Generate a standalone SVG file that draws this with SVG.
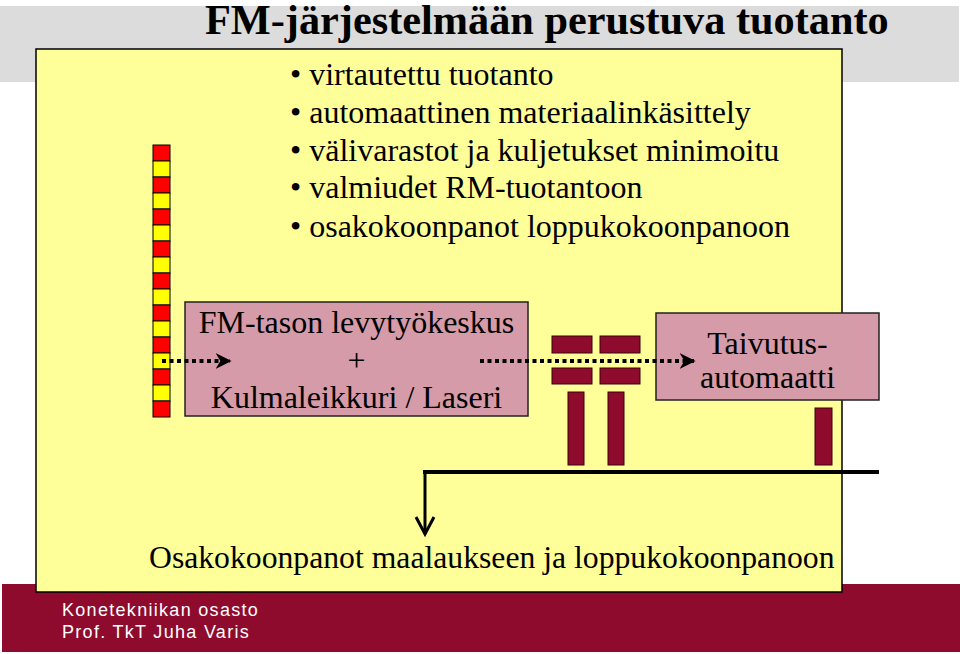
<svg xmlns="http://www.w3.org/2000/svg" width="960" height="654" viewBox="0 0 960 654">
<style>
.serif{font-family:"Liberation Serif","Times New Roman",serif;fill:#000}
.t{font-size:32px}
.box{fill:#d59ba8;stroke:#222;stroke-width:1.5}
.mr{fill:#8e0b2d;stroke:#3a0010;stroke-width:1}
.sqr{fill:#ff0000;stroke:#000;stroke-width:1}
.sqy{fill:#ffff00;stroke:#000;stroke-width:1}
.dot{fill:none;stroke:#000;stroke-width:4;stroke-dasharray:4 3.5}
.foot{font-family:"Liberation Sans",Arial,sans-serif;font-size:18px;fill:#fff;letter-spacing:1.3px}
</style>
<defs>
<marker id="stealth" viewBox="0 0 10 10" refX="9" refY="5" markerWidth="4" markerHeight="4" markerUnits="strokeWidth" orient="auto">
<path d="M0,0 L10,5 L0,10 L3,5 z" fill="#000"/>
</marker>
</defs>
<rect x="0" y="0" width="960" height="654" fill="#fff"/>
<rect x="0" y="6" width="959" height="76" fill="#dcdcdc"/>
<text class="serif" x="205" y="34" font-size="42.3" font-weight="bold">FM-järjestelmään perustuva tuotanto</text>
<rect x="2" y="584" width="958" height="68" fill="#8e0b2d"/>
<text class="foot" x="62" y="616">Konetekniikan osasto</text>
<text class="foot" x="62" y="638">Prof. TkT Juha Varis</text>
<rect x="36" y="49" width="806" height="543" fill="#ffff99" stroke="#000" stroke-width="1.5"/>
<g id="bullets" class="serif t">
<text x="290" y="85">• virtautettu tuotanto</text>
<text x="290" y="123">• automaattinen materiaalinkäsittely</text>
<text x="290" y="161">• välivarastot ja kuljetukset minimoitu</text>
<text x="290" y="198">• valmiudet RM-tuotantoon</text>
<text x="290" y="237">• osakokoonpanot loppukokoonpanoon</text>
</g>
<g id="storage">
<rect class="sqr" x="153" y="145" width="17" height="16"/>
<rect class="sqy" x="153" y="161" width="17" height="16"/>
<rect class="sqr" x="153" y="177" width="17" height="16"/>
<rect class="sqy" x="153" y="193" width="17" height="16"/>
<rect class="sqr" x="153" y="209" width="17" height="16"/>
<rect class="sqy" x="153" y="225" width="17" height="16"/>
<rect class="sqr" x="153" y="241" width="17" height="16"/>
<rect class="sqy" x="153" y="257" width="17" height="16"/>
<rect class="sqr" x="153" y="273" width="17" height="16"/>
<rect class="sqy" x="153" y="289" width="17" height="16"/>
<rect class="sqr" x="153" y="305" width="17" height="16"/>
<rect class="sqy" x="153" y="321" width="17" height="16"/>
<rect class="sqr" x="153" y="337" width="17" height="16"/>
<rect class="sqy" x="153" y="353" width="17" height="16"/>
<rect class="sqr" x="153" y="369" width="17" height="16"/>
<rect class="sqy" x="153" y="385" width="17" height="16"/>
<rect class="sqr" x="153" y="401" width="17" height="16"/>
</g>
<g id="fm-center">
<rect class="box" x="185" y="302" width="343" height="114"/>
<text class="serif t" x="356.5" y="333" text-anchor="middle">FM-tason levytyökeskus</text>
<text class="serif t" x="356.5" y="371" text-anchor="middle">+</text>
<text class="serif t" x="356.5" y="408" text-anchor="middle">Kulmaleikkuri / Laseri</text>
</g>
<g id="parts">
<rect class="mr" x="552" y="336" width="40" height="17"/>
<rect class="mr" x="600" y="336" width="40" height="17"/>
<rect class="mr" x="552" y="368" width="40" height="16"/>
<rect class="mr" x="600" y="368" width="40" height="16"/>
<rect class="mr" x="568" y="392" width="16" height="73"/>
<rect class="mr" x="608" y="392" width="16" height="73"/>
<rect class="mr" x="815" y="408" width="17" height="57"/>
</g>
<g id="taivutus">
<rect class="box" x="656" y="313" width="223" height="87"/>
<text class="serif t" x="767.5" y="354" text-anchor="middle">Taivutus-</text>
<text class="serif t" x="767.5" y="388" text-anchor="middle">automaatti</text>
</g>
<g id="connectors">
<path class="dot" d="M162,361 H230" marker-end="url(#stealth)"/>
<path class="dot" d="M480,361 H694" marker-end="url(#stealth)"/>
<path d="M423,472 H879" fill="none" stroke="#000" stroke-width="4"/>
<path d="M425,472 V534" fill="none" stroke="#000" stroke-width="3"/>
<path d="M416,517 L425,534 L434,517" fill="none" stroke="#000" stroke-width="3"/>
</g>
<text class="serif" x="149" y="568" font-size="31.7">Osakokoonpanot maalaukseen ja loppukokoonpanoon</text>
</svg>
